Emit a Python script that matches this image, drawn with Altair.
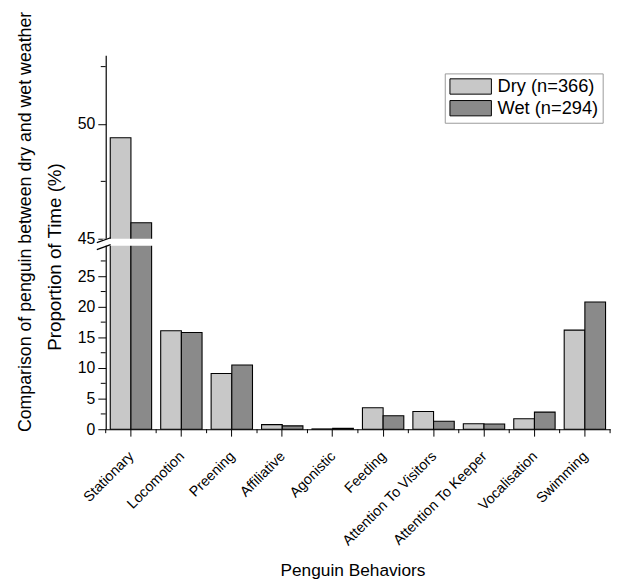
import altair as alt
import pandas as pd

categories = ["Stationary", "Locomotion", "Preening", "Affiliative", "Agonistic",
              "Feeding", "Attention To Visitors", "Attention To Keeper",
              "Vocalisation", "Swimming"]
dry_values = [49.4, 16.1, 9.1, 0.75, 0.05, 3.5, 2.9, 0.9, 1.7, 16.2]
wet_values = [45.7, 15.8, 10.5, 0.55, 0.15, 2.2, 1.3, 0.85, 2.8, 20.8]
series = ["Dry (n=366)", "Wet (n=294)"]
major_y_ticks = [0, 5, 10, 15, 20, 25, 45, 50]
minor_y_ticks = [2.5, 7.5, 12.5, 17.5, 22.5, 27.5, 47.5, 52.5]
y_domain = [0, 30, 45, 53]
outer_title = "Comparison of penguin between dry and wet weather"

FONT = "Liberation Sans"
W, H = 511, 379
PAD_IN, PAD_OUT = 0.18, 0.09
STEP = W / (len(categories) - PAD_IN + 2 * PAD_OUT)

rows = []
for c, d, w in zip(categories, dry_values, wet_values):
    rows.append({"behavior": c, "series": series[0], "value": d})
    rows.append({"behavior": c, "series": series[1], "value": w})
df = pd.DataFrame(rows)

y_scale = alt.Scale(domain=y_domain, range=[H, 193, 186, 0], nice=False, zero=False)
x_scale = alt.Scale(domain=categories, paddingInner=PAD_IN, paddingOuter=PAD_OUT)

bars = alt.Chart(df).mark_bar(stroke="black", strokeWidth=1.1).encode(
    x=alt.X("behavior:N", scale=x_scale, sort=categories,
            axis=alt.Axis(title="Penguin Behaviors", labelAngle=-45, labelAlign="right",
                          labelBaseline="top", labelFontSize=14.5, labelPadding=13,
                          labelOffset=-4, tickSize=7, titleFontSize=17.5, titleX=250,
                          titleY=148, titleBaseline="alphabetic", zindex=0)),
    xOffset=alt.XOffset("series:N", sort=series,
                        scale=alt.Scale(paddingInner=0, paddingOuter=0)),
    y=alt.Y("value:Q", scale=y_scale,
            axis=alt.Axis(values=major_y_ticks, title="Proportion of Time (%)",
                          tickSize=8, labelFontSize=16, labelPadding=3,
                          titleFontSize=19, titleAngle=270, titleX=-46, titleY=204,
                          titleAlign="center", titleBaseline="alphabetic",
                          grid=False, zindex=0)),
    color=alt.Color("series:N",
                    scale=alt.Scale(domain=series, range=["#c8c8c8", "#8a8a8a"]),
                    legend=alt.Legend(title=None, orient="none", legendX=343.5, legendY=18.5,
                                      symbolType="M-2.625,-0.97H2.625V0.97H-2.625Z",
                                      symbolSize=256, symbolStrokeColor="black",
                                      symbolStrokeWidth=1, symbolOpacity=1,
                                      symbolOffset=13,
                                      labelFontSize=18.5, labelOffset=18,
                                      strokeColor="#999999", padding=4, rowPadding=1)),
)

one = pd.DataFrame({"k": [0]})

gap = alt.Chart(one).mark_rect(color="white").encode(
    y=alt.YDatum(30, axis=None), y2=alt.Y2Datum(45),
    x=alt.value(-3), x2=alt.value(W),
)

slash1 = alt.Chart(one).mark_rule(color="black", strokeWidth=1.2).encode(
    x=alt.value(-9), x2=alt.value(5), y=alt.value(190), y2=alt.value(185))
slash2 = alt.Chart(one).mark_rule(color="black", strokeWidth=1.2).encode(
    x=alt.value(-9), x2=alt.value(5), y=alt.value(197), y2=alt.value(192))

minor_y = alt.Chart(pd.DataFrame({"v": minor_y_ticks})).mark_rule(color="black").encode(
    y=alt.Y("v:Q", axis=None), x=alt.value(-5), x2=alt.value(0))

cat_df = pd.DataFrame({"behavior": categories})
minor_x = alt.Chart(cat_df).mark_rule(color="black", xOffset=-PAD_OUT * STEP).encode(
    x=alt.X("behavior:N", sort=categories, bandPosition=0, axis=None),
    y=alt.value(H), y2=alt.value(H + 4))
minor_x_end = alt.Chart(cat_df.tail(1)).mark_rule(color="black", xOffset=PAD_OUT * STEP).encode(
    x=alt.X("behavior:N", sort=categories, bandPosition=1, axis=None),
    y=alt.value(H), y2=alt.value(H + 4))

outer = alt.Chart(one).mark_text(text=outer_title, angle=270, fontSize=18, font=FONT,
                                 align="center", baseline="alphabetic", color="black").encode(
    x=alt.value(-76), y=alt.value(169))

chart = alt.layer(bars, gap, slash1, slash2, minor_y, minor_x, minor_x_end, outer).resolve_axis(
    x="independent", y="independent"
).properties(
    width=W, height=H,
    autosize=alt.AutoSizeParams(type="none"),
    padding={"left": 99, "top": 44, "right": 7, "bottom": 150},
).configure(font=FONT).configure_view(stroke=None).configure_axis(
    domainColor="black", tickColor="black", labelColor="black", titleColor="black",
    labelFont=FONT, titleFont=FONT, titleFontWeight="normal", domainWidth=1.2,
).configure_legend(labelFont=FONT, labelColor="black")

chart.save("out.html", embed_options={"renderer": "svg", "actions": False})
